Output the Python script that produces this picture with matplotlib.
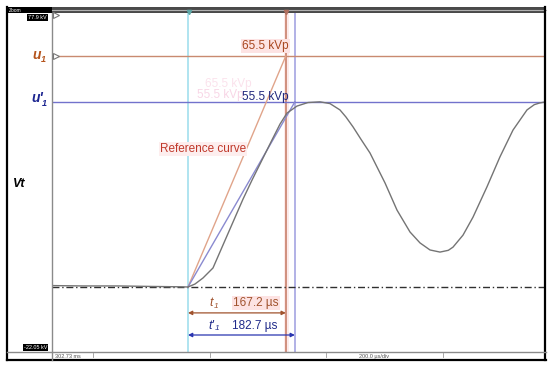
from matplotlib import pyplot as plt
from matplotlib.patches import Rectangle

plt.rcParams['font.family'] = ['Liberation Sans', 'DejaVu Sans']

# waveform (time in µs from trigger cursor, voltage in kV)
t_us = [-232.5, -180, -120, -60, -10, 0, 12.0, 25.6, 42.7, 59.8, 76.9, 94.0,
        109.4, 126.5, 143.6, 157.3, 169.2, 186.3, 205.1, 225.6, 242.7, 259.8,
        270.0, 282.1, 296.0, 311.1, 336.8, 357.3, 379.5, 396.6, 413.7, 430.8,
        445.0, 453.0, 470.1, 487.2, 511.1, 533.3, 555.6, 579.5, 592.0, 601.7,
        612.0]
v_kv = [0.4, 0.3, 0.3, 0.15, 0.05, 0, 0.85, 2.55, 5.39, 11.9, 18.4, 24.9,
        30.3, 36.0, 41.7, 46.2, 49.3, 51.3, 52.3, 52.5, 52.0, 50.2,
        48.2, 45.4, 41.8, 38.0, 29.5, 21.8, 15.6, 12.5, 10.5, 9.9,
        10.4, 11.3, 14.7, 19.8, 28.4, 36.9, 44.5, 50.2, 51.7, 52.2,
        52.5]

u1 = 65.5          # kVp, reference curve peak
u1p = 52.5         # level of the u'1 cursor as drawn on screen
t1 = 167.2         # µs
t1p = 182.7        # µs
t_start = 0.0
x_range = (-232.5, 612.0)
y_range = (-18.43, 77.97)

fig = plt.figure(figsize=(5.5, 3.67), dpi=100)

ax = fig.add_axes([52 / 550, 1 - 352 / 367, 494 / 550, 340 / 367])
ax.set_xlim(*x_range)
ax.set_ylim(*y_range)
ax.axis('off')

# cursors
ax.axvline(t_start, color='#a9e2ef', lw=1.3, zorder=1)
ax.axvline(t1, color='#fdeaea', lw=3.5, zorder=0.5)
ax.axvline(t1, color='#c47860', lw=1.1, zorder=1)
ax.axvline(t1p, color='#a4a4e2', lw=1.2, zorder=1)
ax.axhline(u1, color='#c98a70', lw=1.0, zorder=1)
ax.axhline(u1p, color='#7272cc', lw=1.0, zorder=1)
ax.axhline(0, color='#303030', lw=1.0, ls=(0, (5, 2, 1, 2)), zorder=1)

# reference ramps
ax.plot([t_start, t1], [0, u1], color='#e0a48a', lw=1.0, zorder=2)
ax.plot([t_start, t1p], [0, u1p], color='#8a8ad0', lw=1.0, zorder=2)

# measured waveform
ax.plot(t_us, v_kv, color='#747474', lw=1.0, zorder=3)

# time arrows
xt = ax.get_xaxis_transform()
ax.annotate('', xy=(t1, 0.115), xytext=(t_start, 0.115), xycoords=xt,
            arrowprops=dict(arrowstyle='<|-|>', color='#a0522d', lw=0.9,
                            mutation_scale=6, shrinkA=0, shrinkB=0))
ax.annotate('', xy=(t1p, 0.05), xytext=(t_start, 0.05), xycoords=xt,
            arrowprops=dict(arrowstyle='<|-|>', color='#2a35b0', lw=0.9,
                            mutation_scale=6, shrinkA=0, shrinkB=0))

# overlay in screen pixels for the scope chrome and labels
ov = fig.add_axes([0, 0, 1, 1], zorder=5)
ov.set_xlim(0, 550)
ov.set_ylim(367, 0)
ov.axis('off')
ov.patch.set_alpha(0)

# frame
ov.add_patch(Rectangle((7, 7), 539, 6, facecolor='#4a4a4a', edgecolor='none'))
ov.plot([52, 546], [10, 10], color='#b0b0b0', lw=0.8)
ov.add_patch(Rectangle((7, 7), 45, 6, facecolor='black', edgecolor='none'))
ov.text(9, 10, 'Zoom', color='white', fontsize=3.5, va='center')
ov.plot([7, 7], [7, 360], color='black', lw=1.6)
ov.plot([545, 545], [7, 360], color='black', lw=1.6)
ov.plot([7, 546], [360, 360], color='black', lw=1.6)
ov.plot([52, 52], [13, 360], color='#8a8a8a', lw=1.0)
ov.plot([7, 546], [352, 352], color='#8a8a8a', lw=1.0)
for xtk in [93, 210, 326, 443]:
    ov.plot([xtk, xtk], [353, 357], color='#9a9a9a', lw=0.6)

ov.text(47, 17.5, '77.9 kV', color='white', fontsize=4, ha='right', va='center',
        bbox=dict(facecolor='black', edgecolor='none', pad=0.8))
ov.text(47, 347.5, '-22.05 kV', color='white', fontsize=4, ha='right', va='center',
        bbox=dict(facecolor='black', edgecolor='none', pad=0.8))
ov.text(55, 357, '302.73 ms', color='#555555', fontsize=4, va='center')
ov.text(374, 356.5, '200.0 µs/div', color='#555555', fontsize=4, ha='center', va='center')

# left markers and cursor heads
ov.plot([56, 56], [15, 56], ls='none', marker='>', ms=4.5, mfc='white',
        mec='#777777', mew=0.8)
ov.plot([189], [12], ls='none', marker='v', ms=3, color='#5fa8a8')
ov.plot([286], [12], ls='none', marker='v', ms=3, color='#b07060')

# channel labels
ov.text(32, 55, 'u', color='#b5541c', fontsize=10, fontweight='bold',
        style='italic', va='center')
ov.text(41, 59, '1', color='#b5541c', fontsize=6.5, fontweight='bold',
        style='italic', va='center')
ov.text(31, 98, "u'", color='#1c2590', fontsize=10, fontweight='bold',
        style='italic', va='center')
ov.text(42, 103, '1', color='#1c2590', fontsize=6.5, fontweight='bold',
        style='italic', va='center')
ov.text(13, 184, 'Vt', color='black', fontsize=9, fontweight='bold',
        style='italic', va='center')

# faint leftovers behind the annotations
ov.text(228, 84, '65.5 kVp', color='#fbe2ec', fontsize=8.5, ha='center', va='center')
ov.text(220, 95, '55.5 kVp', color='#f8d6e6', fontsize=8.5, ha='center', va='center')

# annotations
ov.text(289, 46, '65.5 kVp', color='#a8461f', fontsize=8.5, ha='right', va='center',
        bbox=dict(facecolor='#fde3e3', edgecolor='none', pad=1))
ov.text(289, 97, '55.5 kVp', color='#20277c', fontsize=8.5, ha='right', va='center')
ov.text(160, 149, 'Reference curve', color='#c0392b', fontsize=8.5, va='center',
        bbox=dict(facecolor='#fdeeee', edgecolor='none', pad=0.5))

ov.text(209, 303, 't', color='#a0522d', fontsize=9, style='italic', va='center')
ov.text(213.5, 306, '1', color='#a0522d', fontsize=6, style='italic', va='center')
ov.text(233, 303, '167.2 µs', color='#a0522d', fontsize=8.5, va='center',
        bbox=dict(facecolor='#fde3e3', edgecolor='none', pad=1))
ov.text(208, 326, "t'", color='#1f2a8a', fontsize=9, style='italic', va='center')
ov.text(215, 329, '1', color='#1f2a8a', fontsize=6, style='italic', va='center')
ov.text(232, 326, '182.7 µs', color='#1f2a8a', fontsize=8.5, va='center')

fig.savefig('out.png', dpi=100)
